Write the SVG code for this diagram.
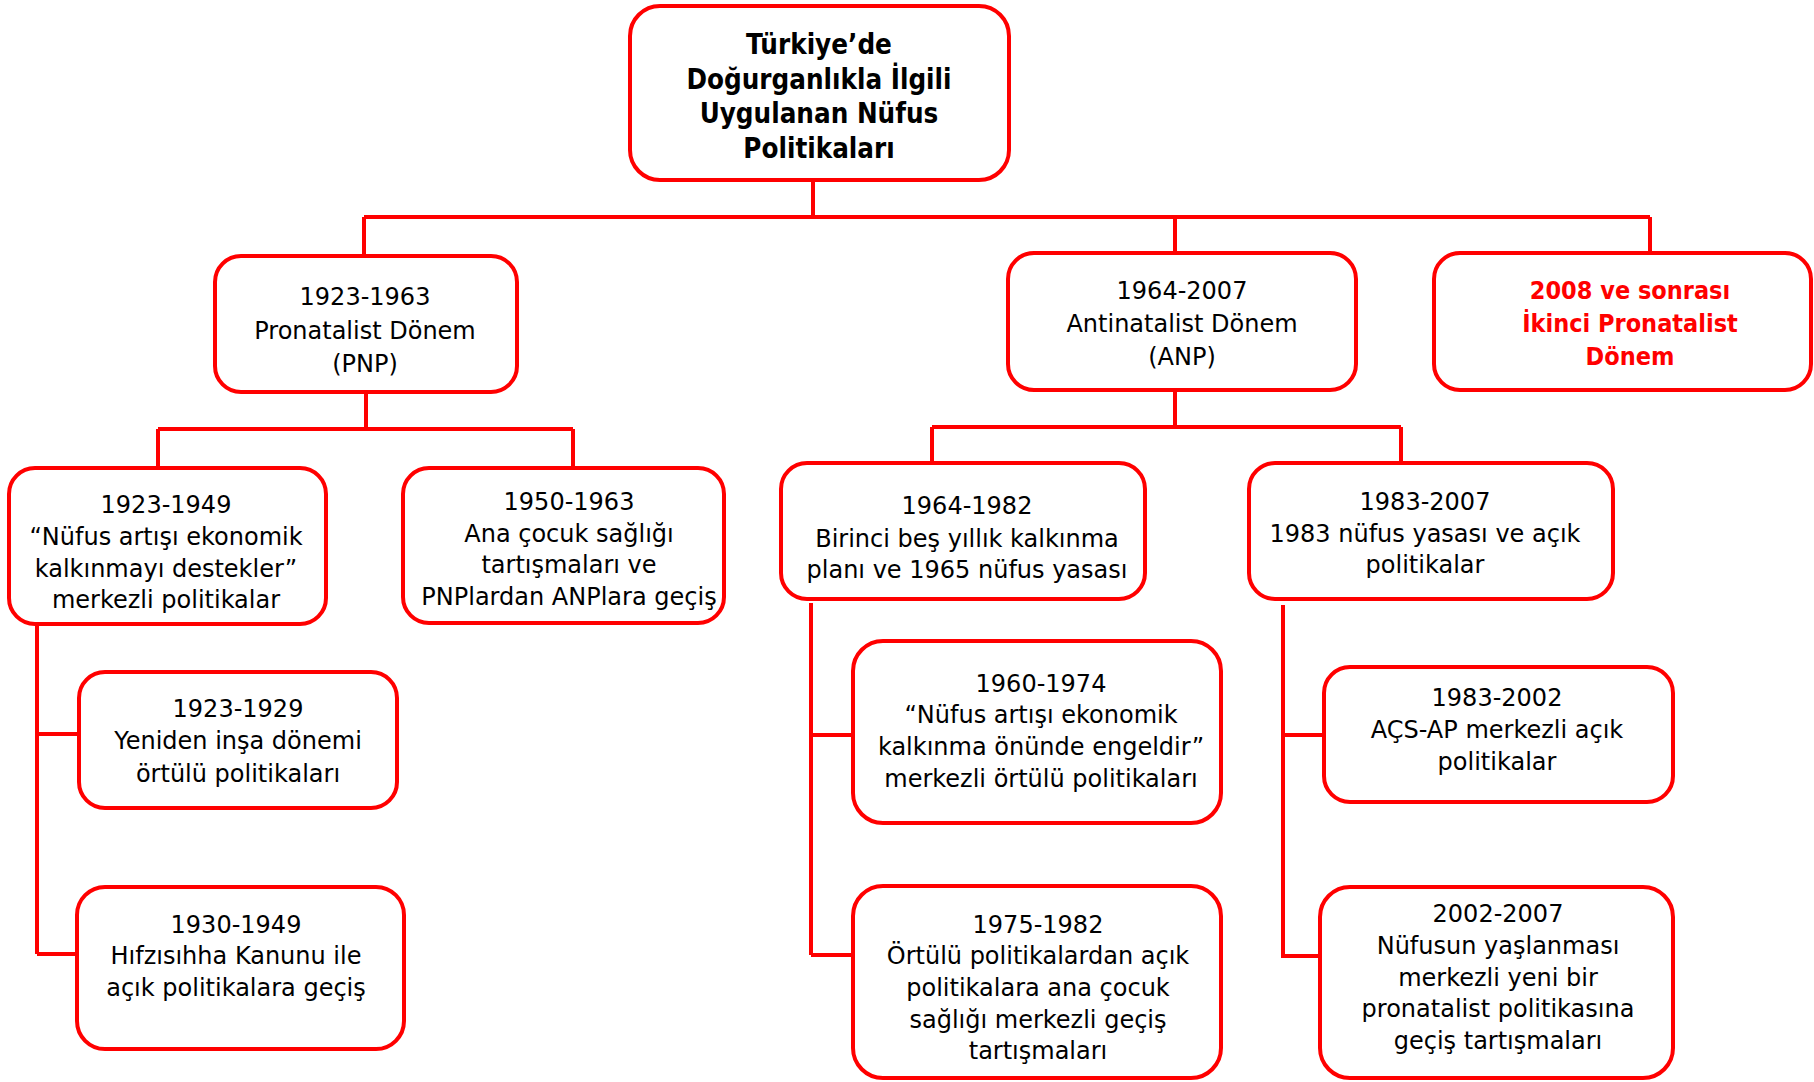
<svg xmlns="http://www.w3.org/2000/svg" width="1814" height="1082" viewBox="0 0 1814 1082">
<style>
.box{fill:#fff;stroke:#ff0000;stroke-width:4}
.con{fill:none;stroke:#ff0000;stroke-width:4}
text{font-family:"DejaVu Sans",Verdana,sans-serif;font-size:24px;text-anchor:middle;fill:#000}
.b{font-family:"DejaVu Sans Condensed","DejaVu Sans",sans-serif;font-stretch:condensed;font-weight:bold}
.title{font-size:27.5px}
.red{fill:#ff0000;font-size:25px}
</style>
<rect width="1814" height="1082" fill="#fff"/>
<g id="connectors">
<path class="con" d="M813,180V217M364,217H1650M364,217V256M1175,217V253M1650,217V253"/>
<path class="con" d="M366,392V429M158,429H573M158,429V468M573,429V468"/>
<path class="con" d="M37,625V954M37,734H79M37,954H77"/>
<path class="con" d="M1175,390V427M932,427H1401M932,427V463M1401,427V463"/>
<path class="con" d="M811,603V955M811,735H853M811,955H853"/>
<path class="con" d="M1283,605V956M1283,735H1324M1281,956H1324"/>
</g>
<g id="root">
<rect class="box" x="630" y="6" width="379" height="174" rx="30"/>
<text class="b title"><tspan x="819" y="54">Türkiye’de</tspan><tspan x="819" y="89">Doğurganlıkla İlgili</tspan><tspan x="819" y="123">Uygulanan Nüfus</tspan><tspan x="819" y="158">Politikaları</tspan></text>
</g>
<g id="pnp">
<rect class="box" x="215" y="256" width="302" height="136" rx="26"/>
<text><tspan x="365" y="305">1923-1963</tspan><tspan x="365" y="339">Pronatalist Dönem</tspan><tspan x="365" y="372">(PNP)</tspan></text>
</g>
<g id="anp">
<rect class="box" x="1008" y="253" width="348" height="137" rx="26"/>
<text><tspan x="1182" y="299">1964-2007</tspan><tspan x="1182" y="332">Antinatalist Dönem</tspan><tspan x="1182" y="365">(ANP)</tspan></text>
</g>
<g id="pnp2">
<rect class="box" x="1434" y="253" width="377" height="137" rx="26"/>
<text class="b red"><tspan x="1630" y="299">2008 ve sonrası</tspan><tspan x="1630" y="332">İkinci Pronatalist</tspan><tspan x="1630" y="365">Dönem</tspan></text>
</g>
<g id="p1923-1949">
<rect class="box" x="9" y="468" width="317" height="156" rx="26"/>
<text><tspan x="166" y="513">1923-1949</tspan><tspan x="166" y="545">“Nüfus artışı ekonomik</tspan><tspan x="166" y="577">kalkınmayı destekler”</tspan><tspan x="166" y="608">merkezli politikalar</tspan></text>
</g>
<g id="p1950-1963">
<rect class="box" x="403" y="468" width="321" height="155" rx="26"/>
<text><tspan x="569" y="510">1950-1963</tspan><tspan x="569" y="542">Ana çocuk sağlığı</tspan><tspan x="569" y="573">tartışmaları ve</tspan><tspan x="569" y="605">PNPlardan ANPlara geçiş</tspan></text>
</g>
<g id="p1964-1982">
<rect class="box" x="781" y="463" width="364" height="136" rx="26"/>
<text><tspan x="967" y="514">1964-1982</tspan><tspan x="967" y="547">Birinci beş yıllık kalkınma</tspan><tspan x="967" y="578">planı ve 1965 nüfus yasası</tspan></text>
</g>
<g id="p1983-2007">
<rect class="box" x="1249" y="463" width="364" height="136" rx="26"/>
<text><tspan x="1425" y="510">1983-2007</tspan><tspan x="1425" y="542">1983 nüfus yasası ve açık</tspan><tspan x="1425" y="573">politikalar</tspan></text>
</g>
<g id="p1923-1929">
<rect class="box" x="79" y="672" width="318" height="136" rx="26"/>
<text><tspan x="238" y="717">1923-1929</tspan><tspan x="238" y="749">Yeniden inşa dönemi</tspan><tspan x="238" y="782">örtülü politikaları</tspan></text>
</g>
<g id="p1930-1949">
<rect class="box" x="77" y="887" width="327" height="162" rx="28"/>
<text><tspan x="236" y="933">1930-1949</tspan><tspan x="236" y="964">Hıfzısıhha Kanunu ile</tspan><tspan x="236" y="996">açık politikalara geçiş</tspan></text>
</g>
<g id="p1960-1974">
<rect class="box" x="853" y="641" width="368" height="182" rx="30"/>
<text><tspan x="1041" y="692">1960-1974</tspan><tspan x="1041" y="723">“Nüfus artışı ekonomik</tspan><tspan x="1041" y="755">kalkınma önünde engeldir”</tspan><tspan x="1041" y="787">merkezli örtülü politikaları</tspan></text>
</g>
<g id="p1975-1982">
<rect class="box" x="853" y="886" width="368" height="192" rx="30"/>
<text><tspan x="1038" y="933">1975-1982</tspan><tspan x="1038" y="964">Örtülü politikalardan açık</tspan><tspan x="1038" y="996">politikalara ana çocuk</tspan><tspan x="1038" y="1028">sağlığı merkezli geçiş</tspan><tspan x="1038" y="1059">tartışmaları</tspan></text>
</g>
<g id="p1983-2002">
<rect class="box" x="1324" y="667" width="349" height="135" rx="26"/>
<text><tspan x="1497" y="706">1983-2002</tspan><tspan x="1497" y="738">AÇS-AP merkezli açık</tspan><tspan x="1497" y="770">politikalar</tspan></text>
</g>
<g id="p2002-2007">
<rect class="box" x="1320" y="887" width="353" height="191" rx="30"/>
<text><tspan x="1498" y="922">2002-2007</tspan><tspan x="1498" y="954">Nüfusun yaşlanması</tspan><tspan x="1498" y="986">merkezli yeni bir</tspan><tspan x="1498" y="1017">pronatalist politikasına</tspan><tspan x="1498" y="1049">geçiş tartışmaları</tspan></text>
</g>
</svg>
